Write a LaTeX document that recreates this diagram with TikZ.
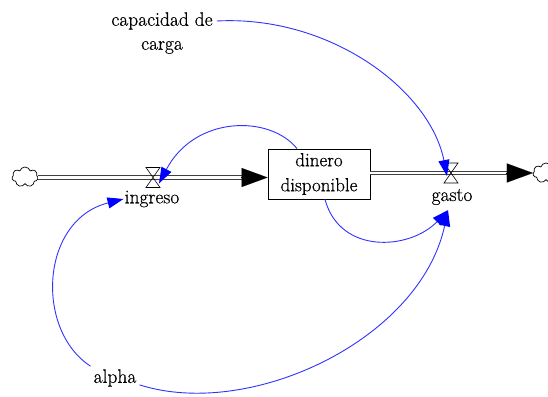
\documentclass[tikz,border=0pt]{standalone}
\usepackage{fontspec}
\newfontfamily\diagfont{Latin Modern Roman}[FakeBold=0.6]
\usetikzlibrary{arrows.meta,shapes.symbols}
\definecolor{linkblue}{RGB}{50,50,255}
\tikzset{
  lbl/.style={inner sep=1pt, font=\diagfont\fontsize{19.5}{24}\selectfont, align=center},
  stock/.style={draw, line width=0.8pt, minimum width=102pt, minimum height=50pt, inner sep=0pt, font=\diagfont\fontsize{19}{25}\selectfont, align=center},
  pipe/.style={draw=black!75, line width=1.1pt, double=white, double distance=2.6pt},
  flowhead/.style={-{Triangle[length=26pt,width=19pt]}, line width=0.1pt, black},
  valve/.style={draw, line width=0.6pt},
  sink/.style={cloud, cloud puffs=7, draw, line width=0.7pt, minimum width=26pt, minimum height=20pt, inner sep=0pt},
  link/.style={draw=linkblue, line width=0.9pt, -{Triangle[length=16pt,width=11pt,color=blue,fill=blue]}},
}
\begin{document}
\begin{tikzpicture}[x=1pt,y=-1pt]
\useasboundingbox (0,0) rectangle (548,396);
\fill[white] (0,0) rectangle (548,396);
% nodes
\node[sink] (cloudL) at (25,177) {};
\node[sink] (cloudR) at (546,173) {};
\node[stock] (box) at (319,174) {dinero\\disponible};
\node[coordinate] (iv) at (153,177.5) {};
\node[coordinate] (gv) at (451,173) {};
\node[lbl] (ingreso) at (152,199) {ingreso};
\node[lbl] (gasto) at (452,197) {gasto};
\node[lbl] (cap) at (162,33) {capacidad de\\carga};
\node[lbl] (alpha) at (115,378) {alpha};
% pipes
\draw[pipe] (cloudL.east |- iv) -- (iv) -- ([xshift=-24pt]box.west |- iv);
\draw[flowhead] ([xshift=-27pt]box.west |- iv) -- (box.west |- iv);
\draw[pipe] (box.east |- gv) -- (gv) -- ([xshift=-24pt]cloudR.west |- gv);
\draw[flowhead] ([xshift=-27pt]cloudR.west |- gv) -- (cloudR.west |- gv);
% valves
\draw[valve] ([shift={(-7,-10)}]iv) -- ([shift={(7,-10)}]iv) -- ([shift={(-7,10)}]iv) -- ([shift={(7,10)}]iv) -- cycle;
\draw[valve] ([shift={(-7,-10)}]gv) -- ([shift={(7,-10)}]gv) -- ([shift={(-7,10)}]gv) -- ([shift={(7,10)}]gv) -- cycle;
% links
\draw[link] ([shift={(3,-12)}]cap.east) .. controls (330,15) and (430,90) .. ([shift={(-4,3)}]gv);
\draw[link] ([xshift=-22pt]box.north) .. controls (270,115) and (195,115) .. ([shift={(6,6)}]iv);
\draw[link] ([xshift=6pt]box.south) .. controls (340,255) and (410,250) .. ([shift={(-4,4)}]gasto.south);
\draw[link] ([shift={(-2,-2)}]alpha.north west) .. controls (35,330) and (40,220) .. (ingreso.west);
\draw[link] ([shift={(2,-3)}]alpha.south east) .. controls (250,420) and (420,340) .. ([shift={(-4,4)}]gasto.south);
\end{tikzpicture}
\end{document}
